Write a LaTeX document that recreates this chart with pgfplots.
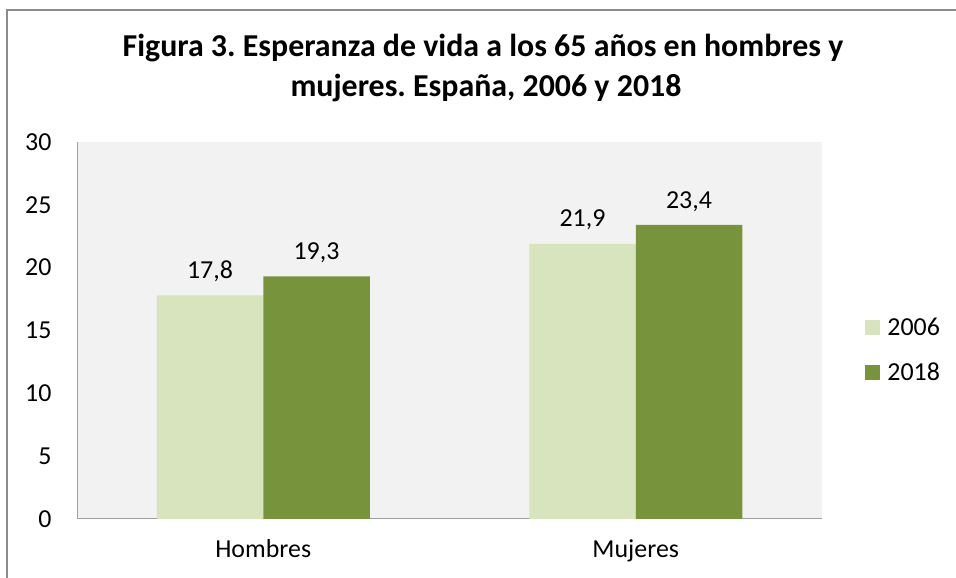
\documentclass[border=0pt]{standalone}
\usepackage{fontspec}
\setmainfont{Carlito}
\usepackage{pgfplots}
\pgfplotsset{compat=1.18}
\definecolor{lg}{HTML}{D7E4BD}
\definecolor{dg}{HTML}{77933C}
\definecolor{bg}{HTML}{F2F2F2}
\definecolor{axc}{HTML}{A0A0A0}
\definecolor{frc}{HTML}{8C8C8C}
\frenchspacing
\begin{document}
\begin{tikzpicture}[x=1bp,y=1bp]
\useasboundingbox (0,0) rectangle (956,578);
\draw[frc, line width=1.5bp] (7,0) -- (7,568) -- (956,568);
\node[font=\fontsize{32}{40}\selectfont\bfseries, anchor=base, inner sep=0pt] at (483,521) {Figura 3. Esperanza de vida a los 65 años en hombres y};
\node[font=\fontsize{32}{40}\selectfont\bfseries, anchor=base, inner sep=0pt] at (486,481) {mujeres. España, 2006 y 2018};
\begin{axis}[
  at={(77bp,59bp)}, anchor=south west,
  scale only axis, width=745bp, height=377bp,
  xmin=-0.5, xmax=1.5, ymin=0, ymax=30,
  ybar=0pt, bar width=106.5bp,
  xtick={0,1}, xticklabels={Hombres,Mujeres},
  ytick={0,5,...,30},
  major tick length=0,
  axis x line*=bottom, axis y line*=left,
  x axis line style={-}, y axis line style={-},
  axis line style={axc, line width=1bp},
  axis background/.style={fill=bg},
  tick label style={font=\fontsize{26}{30}\selectfont},
  /pgf/number format/assume math mode=true,
  yticklabel style={xshift=-22bp},
  xticklabel style={yshift=-17bp},
  nodes near coords={\pgfmathprintnumber[use comma,fixed,fixed zerofill,precision=1]{\pgfplotspointmeta}},
  point meta=y,
  nodes near coords style={font=\fontsize{26}{30}\selectfont, yshift=10bp},
  legend style={draw=none, fill=none, at={(1.058,0.448)}, anchor=west,
    font=\fontsize{26}{30}\selectfont, row sep=22bp, inner sep=0pt},
  legend cell align=left,
  legend image code/.code={\fill[#1] (0bp,-7.5bp) rectangle (15bp,7.5bp); \path (20bp,0bp);},
]
\addplot[fill=lg, draw=none] coordinates {(0,17.8) (1,21.9)};
\addplot[fill=dg, draw=none] coordinates {(0,19.3) (1,23.4)};
\legend{2006,2018}
\end{axis}
\end{tikzpicture}
\end{document}
